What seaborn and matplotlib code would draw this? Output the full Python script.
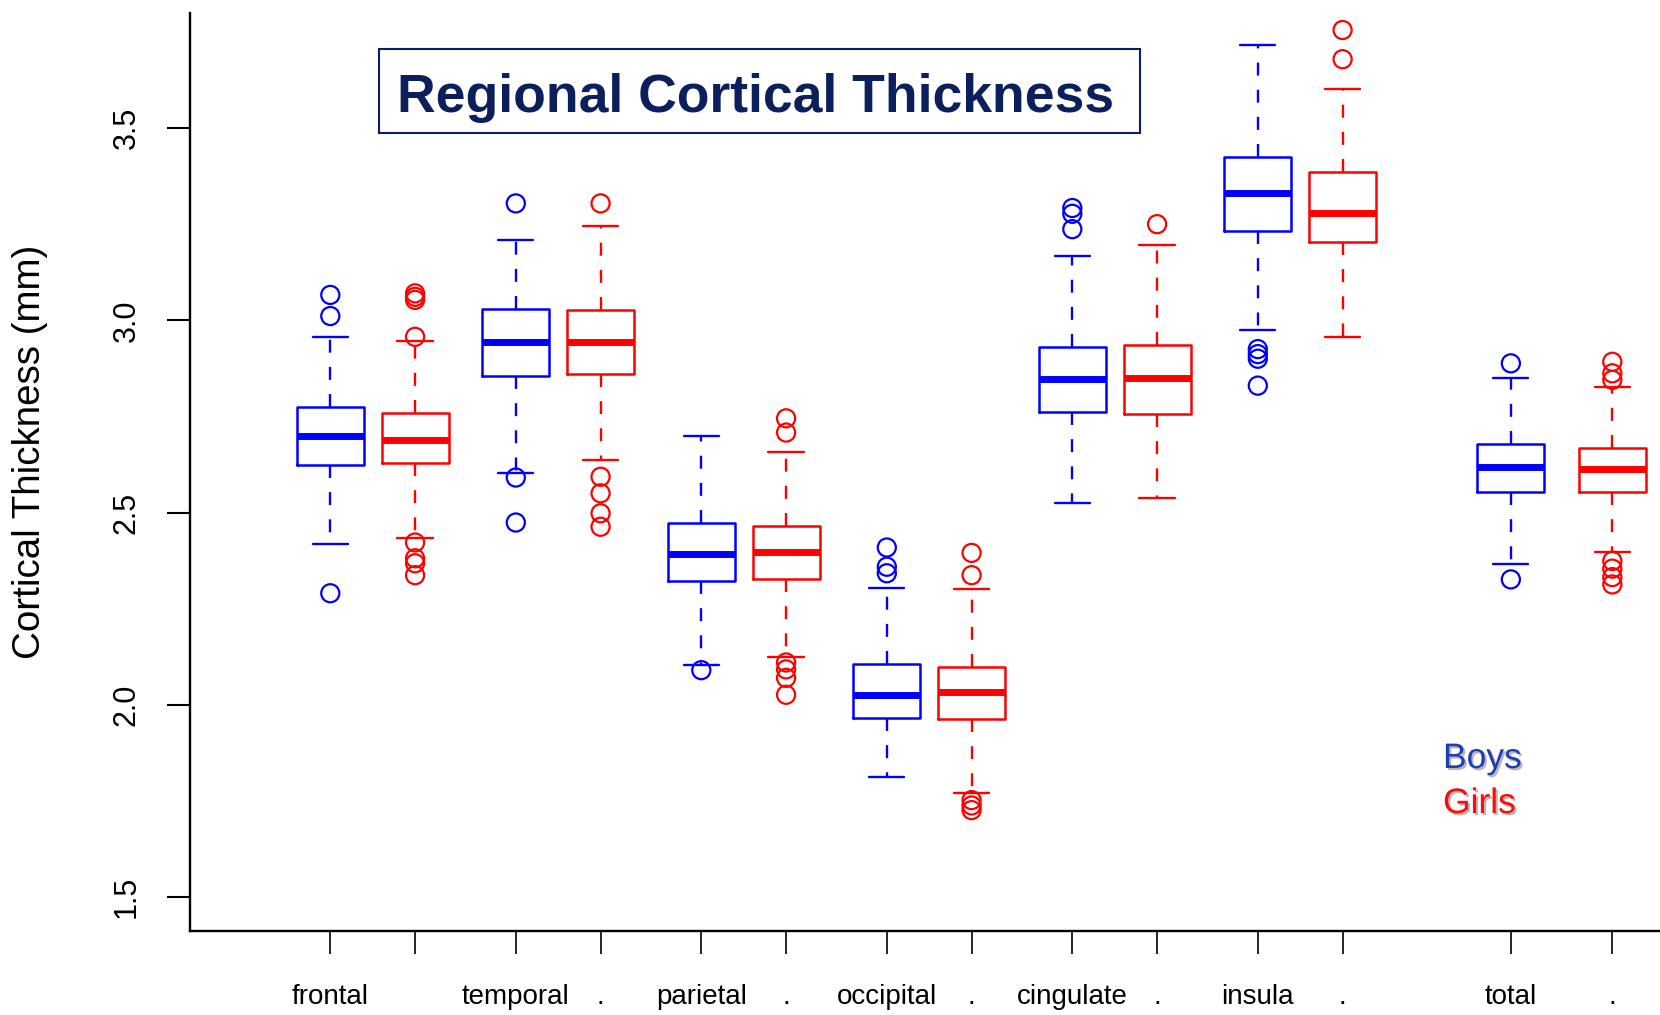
import matplotlib
matplotlib.use("Agg")
import matplotlib.pyplot as plt
import matplotlib.patheffects as pe
from matplotlib.patches import Rectangle
import seaborn as sns
import pandas as pd

# ---------------- data ----------------
regions = ["frontal", "temporal", "parietal", "occipital", "cingulate", "insula", "total"]
tick_labels = ["frontal", "", "temporal", ".", "parietal", ".", "occipital", ".",
               "cingulate", ".", "insula", ".", "total", "."]
y_ticks = [1.5, 2.0, 2.5, 3.0, 3.5]

boys_lo  = [2.417, 2.602, 2.103, 1.813, 2.525, 2.975, 2.366]
boys_q1  = [2.624, 2.855, 2.322, 1.965, 2.762, 3.232, 2.554]
boys_med = [2.700, 2.943, 2.391, 2.025, 2.846, 3.332, 2.618]
boys_q3  = [2.774, 3.029, 2.473, 2.105, 2.931, 3.425, 2.678]
boys_hi  = [2.957, 3.209, 2.700, 2.303, 3.167, 3.716, 2.849]
boys_out = [[3.066, 3.011, 2.290],
            [3.304, 2.591, 2.474],
            [2.090],
            [2.409, 2.359, 2.342],
            [3.292, 3.277, 3.237],
            [2.925, 2.912, 2.900, 2.830],
            [2.888, 2.326]]

girls_lo  = [2.433, 2.637, 2.123, 1.771, 2.539, 2.957, 2.398]
girls_q1  = [2.628, 2.860, 2.326, 1.963, 2.756, 3.203, 2.554]
girls_med = [2.689, 2.944, 2.398, 2.032, 2.849, 3.278, 2.612]
girls_q3  = [2.760, 3.027, 2.465, 2.099, 2.937, 3.385, 2.667]
girls_hi  = [2.947, 3.245, 2.657, 2.301, 3.197, 3.601, 2.827]
girls_out = [[3.070, 3.061, 3.053, 2.957, 2.422, 2.381, 2.368, 2.337],
             [3.304, 2.593, 2.550, 2.498, 2.463],
             [2.745, 2.708, 2.110, 2.092, 2.070, 2.026],
             [2.395, 2.337, 1.752, 1.738, 1.726],
             [3.250],
             [3.755, 3.679],
             [2.892, 2.862, 2.845, 2.374, 2.354, 2.332, 2.313]]

# ---------------- layout ----------------
boys_pos = [1.0, 2.0, 3.0, 4.0, 5.0, 6.0, 7.364]
girls_pos = [1.457, 2.457, 3.457, 4.457, 5.457, 6.457, 7.911]
BLUE, RED = "#0000FF", "#FF0000"
NAVY = "#0B1F5C"

sns.set_theme(style="ticks")
plt.rcParams['font.family'] = ['Liberation Sans', 'DejaVu Sans']

W, H = 1660, 1015
fig = plt.figure(figsize=(W / 100, H / 100), dpi=100)
fig.patch.set_facecolor("white")
ax_l, ax_r, ax_t, ax_b = 189.5, 1660, 12.7, 930.6
ax = fig.add_axes([ax_l / W, 1 - ax_b / H, (ax_r - ax_l) / W, (ax_b - ax_t) / H])
ax.set_facecolor("white")


def make_stats(lo, q1, med, q3, hi):
    return [dict(whislo=a, q1=b, med=c, q3=d, whishi=e, fliers=[])
            for a, b, c, d, e in zip(lo, q1, med, q3, hi)]


def draw(stats, pos, col):
    ax.bxp(stats, positions=pos, widths=0.361, capwidths=0.19, showfliers=False,
           manage_ticks=False,
           boxprops=dict(color=col, lw=1.8),
           medianprops=dict(color=col, lw=5.0, solid_capstyle="butt"),
           whiskerprops=dict(color=col, lw=1.7, linestyle=(0, (5.5, 6))),
           capprops=dict(color=col, lw=1.7))


draw(make_stats(boys_lo, boys_q1, boys_med, boys_q3, boys_hi), boys_pos, BLUE)
draw(make_stats(girls_lo, girls_q1, girls_med, girls_q3, girls_hi), girls_pos, RED)

# outliers through seaborn
rows = []
for p, vals in zip(boys_pos, boys_out):
    rows += [dict(pos=p, value=v, sex="Boys") for v in vals]
for p, vals in zip(girls_pos, girls_out):
    rows += [dict(pos=p, value=v, sex="Girls") for v in vals]
out_df = pd.DataFrame(rows)
sns.scatterplot(data=out_df, x="pos", y="value", hue="sex",
                palette={"Boys": BLUE, "Girls": RED}, legend=False,
                s=170, marker="o", linewidth=1.6, ax=ax, zorder=5)
coll = ax.collections[-1]
fcs = coll.get_facecolors()
coll.set_edgecolors(fcs)
coll.set_facecolors("none")

# axes
ax.set_xlim(0.241, 8.168)
ax.set_ylim(1.4126, 3.800)
all_pos = sorted(boys_pos + girls_pos)
ax.set_xticks(all_pos)
ax.set_xticklabels(tick_labels)
ax.set_yticks(y_ticks)
ax.set_yticklabels([f"{v:.1f}" for v in y_ticks])
ax.set_xlabel("")
ax.set_ylabel("Cortical Thickness (mm)", fontsize=27.7, color="black")
ax.yaxis.set_label_coords(-0.1085, 0.522)
ax.yaxis.label.set_va("center")

ax.tick_params(axis="y", labelrotation=90, length=16.6, width=1.5, pad=18,
               labelsize=22, colors="black")
ax.tick_params(axis="x", length=16.6, width=1.2, pad=21.5, labelsize=20, colors="black")
for lab in ax.get_yticklabels():
    lab.set_va("center")
sns.despine(ax=ax)
for s in ("left", "bottom"):
    ax.spines[s].set_color("black")
    ax.spines[s].set_linewidth(1.7)
ax.grid(False)

# title box
fig.add_artist(Rectangle((379 / W, 1 - 132.7 / H), (1140 - 379) / W, (132.7 - 49) / H,
                         transform=fig.transFigure, fill=False, edgecolor=NAVY, lw=1.5))
fig.text(755.5 / W, 1 - 111.7 / H, "Regional Cortical Thickness", ha="center",
         va="baseline", fontsize=38.5, fontweight="bold", color=NAVY)

# Boys / Girls legend text
shadow = [pe.withSimplePatchShadow(offset=(1.5, -1.5), shadow_rgbFace="#888888", alpha=0.6)]
fig.text(1443 / W, 1 - 768 / H, "Boys", ha="left", va="baseline", fontsize=25.5,
         color="#1F3FB0", path_effects=shadow)
fig.text(1443 / W, 1 - 813 / H, "Girls", ha="left", va="baseline", fontsize=25.5,
         color="#FF0A0A", path_effects=shadow)

fig.savefig("out.png", dpi=100, facecolor="white")
